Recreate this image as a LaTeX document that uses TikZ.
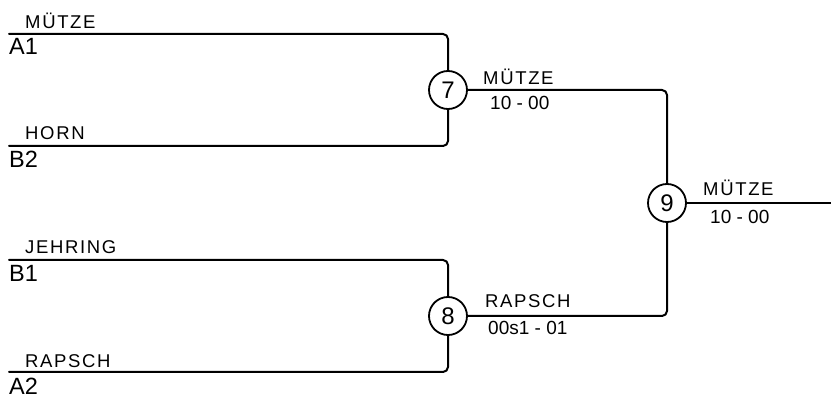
\documentclass[tikz,border=0pt]{standalone}
\usepackage{fontspec}
\setmainfont{Liberation Sans}
\newfontfamily\namefont[LetterSpace=9]{Liberation Sans}
\tikzset{
  match/.style={circle, draw, line width=1.8pt, minimum size=38pt, inner sep=0pt, font=\fontsize{24}{26}\selectfont},
  team/.style={anchor=base west, inner sep=0pt, font=\namefont\fontsize{18.5}{20}\selectfont},
  seed/.style={anchor=base west, inner sep=0pt, font=\fontsize{23.5}{26}\selectfont},
  score/.style={anchor=base west, inner sep=0pt, font=\fontsize{19}{21}\selectfont},
  wire/.style={line width=2pt, rounded corners=5pt}
}
\begin{document}
\begin{tikzpicture}[x=1pt, y=-1pt, line join=round, line cap=round]
	\useasboundingbox (0,0) rectangle (831,398);
	% matches
	\node[match] (m7) at (448,90) {7};
	\node[match] (m8) at (448,316) {8};
	\node[match] (m9) at (667,203) {9};
	% entry lines
	\coordinate (a1) at (9,34);
	\coordinate (b2) at (9,146);
	\coordinate (b1) at (9,260);
	\coordinate (a2) at (9,372);
	\coordinate (out) at (831,203);
	\draw[wire] (a1) -| (m7);
	\draw[wire] (b2) -| (m7);
	\draw[wire] (b1) -| (m8);
	\draw[wire] (a2) -| (m8);
	\draw[wire] (m7) -| (m9);
	\draw[wire] (m8) -| (m9);
	\draw[wire] (m9) -- (out);
	% teams and seeds
	\node[team] (t-a1) at (25,29) {MÜTZE};
	\node[seed] (s-a1) at (9,55) {A1};
	\node[team] (t-b2) at (25,140) {HORN};
	\node[seed] (s-b2) at (9,168) {B2};
	\node[team] (t-b1) at (25,254) {JEHRING};
	\node[seed] (s-b1) at (9,282) {B1};
	\node[team] (t-a2) at (25,367) {RAPSCH};
	\node[seed] (s-a2) at (9,395) {A2};
	% winners and scores
	\node[team] (w7) at (483,85) {MÜTZE};
	\node[score] (r7) at (490,110) {10 - 00};
	\node[team] (w8) at (485,308) {RAPSCH};
	\node[score] (r8) at (488,335) {00s1 - 01};
	\node[team] (w9) at (703,196) {MÜTZE};
	\node[score] (r9) at (710,224) {10 - 00};
\end{tikzpicture}
\end{document}
